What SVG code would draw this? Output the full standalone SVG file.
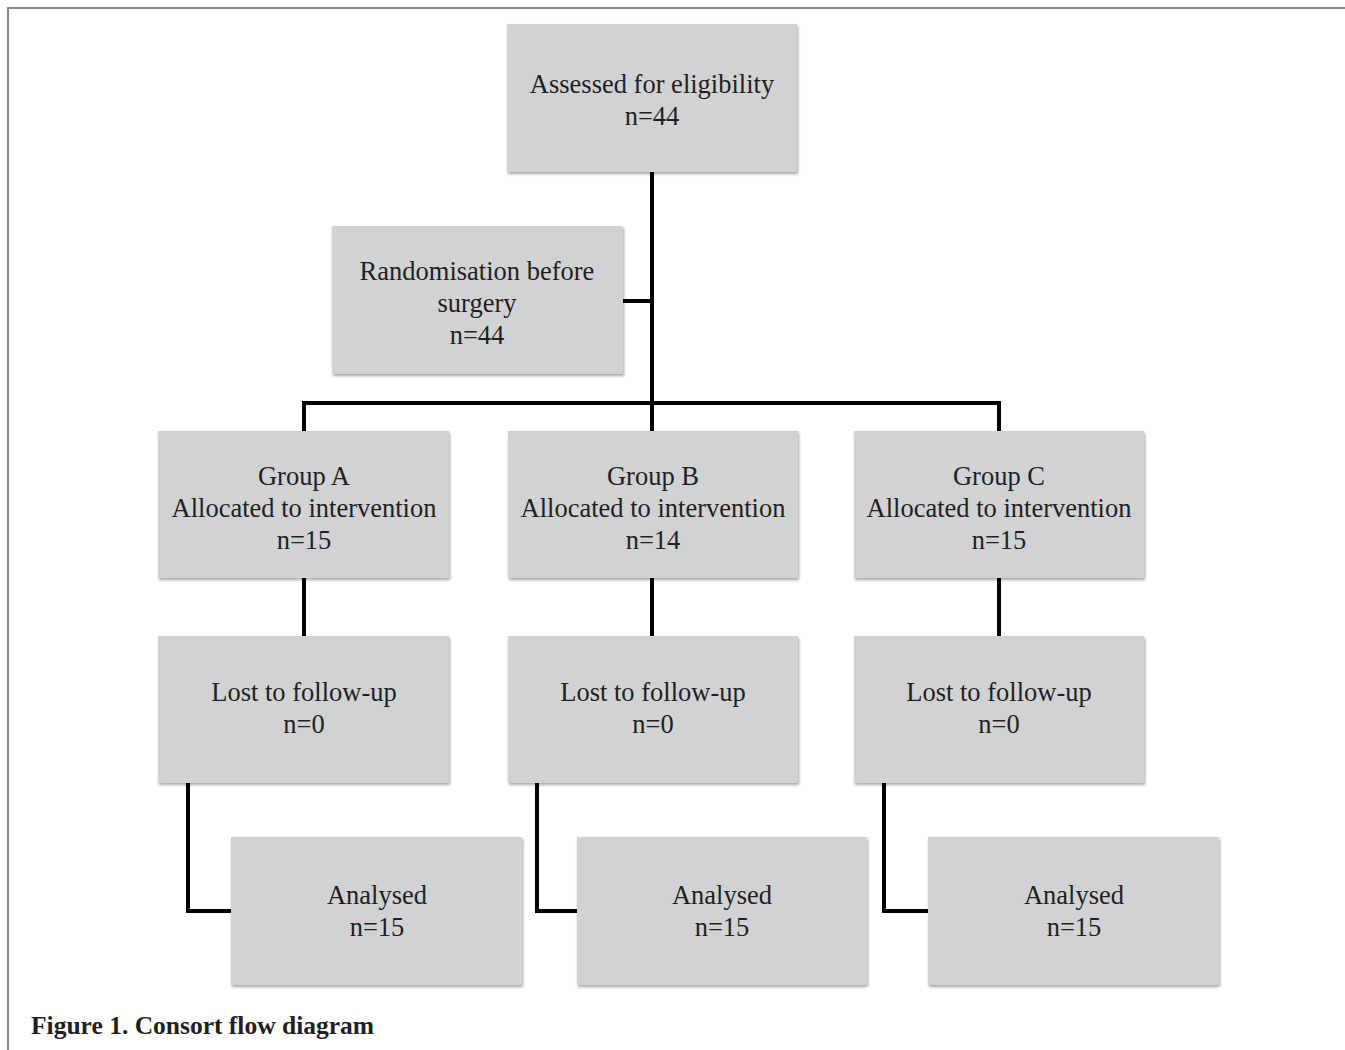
<svg xmlns="http://www.w3.org/2000/svg" width="1345" height="1050" viewBox="0 0 1345 1050">
<defs>
<filter id="sh" x="-5%" y="-5%" width="112%" height="115%">
<feDropShadow dx="1" dy="2" stdDeviation="1.5" flood-color="#000" flood-opacity="0.35"/>
</filter>
<style>
.box{fill:#d1d2d4;filter:url(#sh);}
.t{font-family:"Liberation Serif","Times New Roman",serif;font-size:26.5px;fill:#231f20;text-anchor:middle;}
.c{fill:none;stroke:#000;stroke-width:4;stroke-linejoin:miter;}
.cap{font-family:"Liberation Serif","Times New Roman",serif;font-size:25.5px;font-weight:bold;fill:#231f20;}
</style>
</defs>
<rect width="1345" height="1050" fill="#fff"/>
<path d="M8 1050 V8 H1345" fill="none" stroke="#8a8a8a" stroke-width="2"/>
<g id="connectors">
<path class="c" d="M652 172 V431"/>
<path class="c" d="M623 301 H652"/>
<path class="c" d="M304 431 V403 H999 V431"/>
<path class="c" d="M304 578 V636"/>
<path class="c" d="M652 578 V636"/>
<path class="c" d="M999 578 V636"/>
<path class="c" d="M188 783 V911 H231"/>
<path class="c" d="M537 783 V911 H577"/>
<path class="c" d="M884 783 V911 H928"/>
</g>
<g id="assessed"><rect class="box" x="507" y="24" width="290" height="148"/><text class="t" x="652" y="93">Assessed for eligibility</text><text class="t" x="652" y="125">n=44</text></g>
<g id="randomisation"><rect class="box" x="332" y="226" width="291" height="148"/><text class="t" x="477" y="280">Randomisation before</text><text class="t" x="477" y="312">surgery</text><text class="t" x="477" y="344">n=44</text></g>
<g id="groupA"><rect class="box" x="158" y="431" width="291" height="147"/><text class="t" x="304" y="485">Group A</text><text class="t" x="304" y="517">Allocated to intervention</text><text class="t" x="304" y="549">n=15</text></g>
<g id="groupB"><rect class="box" x="508" y="431" width="290" height="147"/><text class="t" x="653" y="485">Group B</text><text class="t" x="653" y="517">Allocated to intervention</text><text class="t" x="653" y="549">n=14</text></g>
<g id="groupC"><rect class="box" x="854" y="431" width="290" height="147"/><text class="t" x="999" y="485">Group C</text><text class="t" x="999" y="517">Allocated to intervention</text><text class="t" x="999" y="549">n=15</text></g>
<g id="lostA"><rect class="box" x="158" y="636" width="291" height="147"/><text class="t" x="304" y="701">Lost to follow-up</text><text class="t" x="304" y="733">n=0</text></g>
<g id="lostB"><rect class="box" x="508" y="636" width="290" height="147"/><text class="t" x="653" y="701">Lost to follow-up</text><text class="t" x="653" y="733">n=0</text></g>
<g id="lostC"><rect class="box" x="854" y="636" width="290" height="147"/><text class="t" x="999" y="701">Lost to follow-up</text><text class="t" x="999" y="733">n=0</text></g>
<g id="analysedA"><rect class="box" x="231" y="837" width="291" height="148"/><text class="t" x="377" y="904">Analysed</text><text class="t" x="377" y="936">n=15</text></g>
<g id="analysedB"><rect class="box" x="577" y="837" width="290" height="148"/><text class="t" x="722" y="904">Analysed</text><text class="t" x="722" y="936">n=15</text></g>
<g id="analysedC"><rect class="box" x="928" y="837" width="291" height="148"/><text class="t" x="1074" y="904">Analysed</text><text class="t" x="1074" y="936">n=15</text></g>
<text class="cap" x="31" y="1034">Figure 1. Consort flow diagram</text>
</svg>
